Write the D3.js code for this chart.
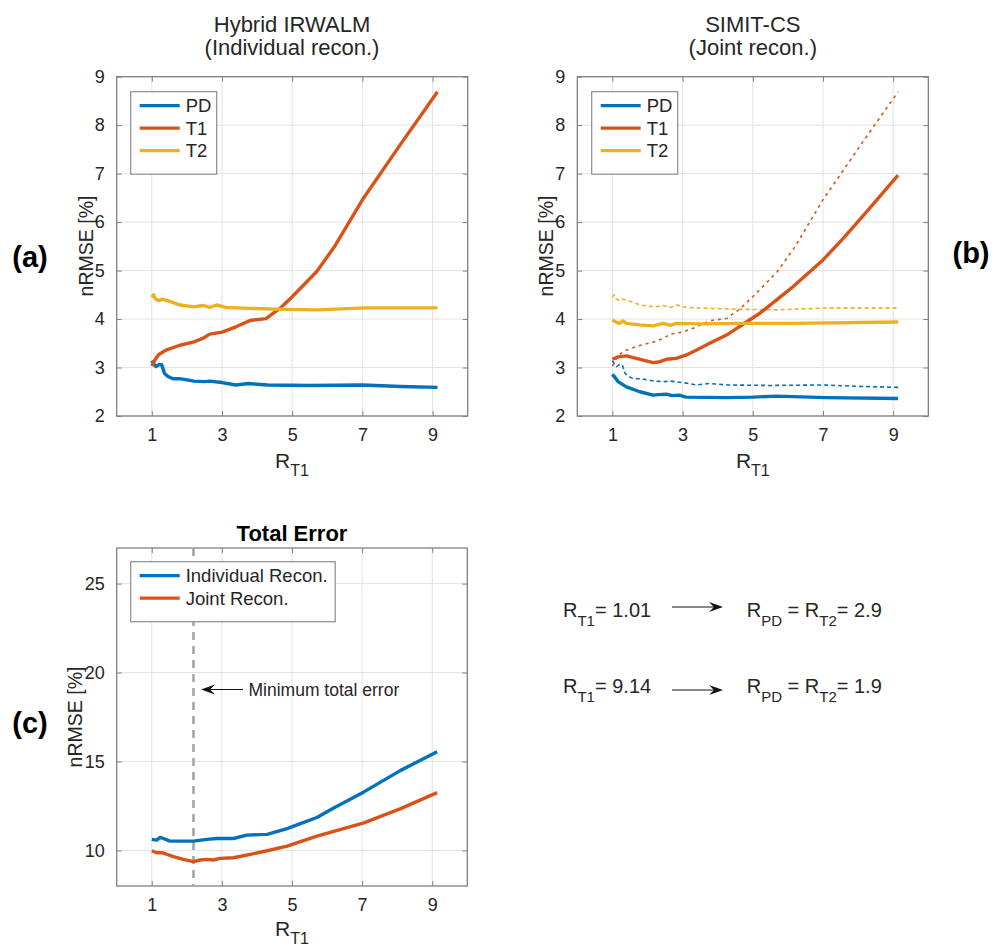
<!DOCTYPE html>
<html>
<head>
<meta charset="utf-8">
<script src="https://cdn.jsdelivr.net/npm/d3@7"></script>
<style>
  body { margin: 0; background: #fff; }
  svg text { font-family: "Liberation Sans", Arial, sans-serif; fill: #262626; }
</style>
</head>
<body>
<svg width="995" height="949"></svg>
<script>
// R_T1 vs nRMSE
var xTicks = [1, 3, 5, 7, 9];
var yTicksAB = [2, 3, 4, 5, 6, 7, 8, 9];
var yTicksC = [10, 15, 20, 25];

// (a) individual recon
var indivPD = [[1,3.14],[1.05,3.08],[1.12,3.02],[1.2,3.06],[1.28,3.06],[1.36,2.88],[1.45,2.82],[1.6,2.77],[1.8,2.77],[2.2,2.72],[2.5,2.71],[2.65,2.72],[3.0,2.69],[3.4,2.64],[3.75,2.67],[4.3,2.64],[5.5,2.63],[7.0,2.64],[8.1,2.61],[9.14,2.59]];
var indivT1 = [[1,3.03],[1.1,3.17],[1.2,3.27],[1.4,3.36],[1.8,3.46],[2.2,3.53],[2.45,3.6],[2.65,3.69],[3.0,3.73],[3.4,3.84],[3.8,3.97],[4.25,4.01],[4.65,4.22],[5.0,4.46],[5.7,4.98],[6.2,5.49],[7.0,6.46],[8.1,7.62],[9.14,8.69]];
var indivT2 = [[1,4.45],[1.05,4.5],[1.1,4.42],[1.2,4.38],[1.3,4.41],[1.45,4.38],[1.8,4.29],[2.2,4.25],[2.45,4.28],[2.65,4.24],[2.85,4.29],[3.1,4.24],[3.8,4.22],[4.8,4.2],[5.7,4.19],[7.1,4.23],[9.14,4.23]];

// (b) joint recon
var jointPD = [[1,2.86],[1.1,2.77],[1.16,2.71],[1.4,2.6],[1.78,2.5],[2.16,2.43],[2.3,2.44],[2.54,2.45],[2.7,2.42],[2.9,2.43],[3.1,2.39],[4.25,2.38],[5,2.39],[5.67,2.41],[7.1,2.38],[9.14,2.36]];
var jointT1 = [[1,3.17],[1.16,3.22],[1.4,3.24],[1.68,3.19],[2.16,3.1],[2.35,3.12],[2.54,3.17],[2.82,3.19],[3.11,3.26],[3.4,3.36],[3.77,3.5],[4.25,3.67],[4.82,3.94],[5.2,4.12],[5.67,4.39],[6.15,4.67],[7.0,5.22],[7.57,5.66],[8.24,6.21],[9.14,6.97]];
var jointT2 = [[1,3.98],[1.1,3.94],[1.2,3.91],[1.3,3.96],[1.4,3.91],[1.78,3.88],[2.16,3.86],[2.45,3.91],[2.65,3.87],[2.82,3.91],[3.5,3.9],[4.7,3.91],[6.15,3.91],[9.14,3.94]];

// (c) total error
var totalIndiv = [[1,10.62],[1.14,10.58],[1.24,10.73],[1.33,10.67],[1.52,10.52],[2.19,10.52],[2.57,10.62],[2.86,10.67],[3.33,10.67],[3.71,10.86],[4.29,10.9],[4.86,11.23],[5.24,11.51],[5.71,11.85],[6.19,12.39],[7.05,13.29],[8.1,14.5],[9.14,15.55]];
var totalJoint = [[1,9.98],[1.14,9.87],[1.29,9.87],[1.62,9.65],[1.9,9.5],[2.19,9.37],[2.38,9.46],[2.57,9.5],[2.76,9.46],[2.95,9.55],[3.33,9.59],[3.81,9.78],[4.29,9.98],[4.86,10.24],[5.71,10.8],[7.05,11.55],[8.1,12.35],[9.14,13.25]];
var minTotalR = 2.19;

var blue = "#0072BD", red = "#D95319", yellow = "#EDB120";

var svg = d3.select("svg");

function drawPanel(box, yDomain, yTicks)
{
  var x = d3.scaleLinear().domain([0, 10]).range([box.x0, box.x1]);
  var y = d3.scaleLinear().domain(yDomain).range([box.y1, box.y0]);
  var g = svg.append("g");

  // grid
  g.selectAll("line.gx").data(xTicks).enter().append("line")
   .attr("x1", d => x(d)).attr("x2", d => x(d))
   .attr("y1", box.y0).attr("y2", box.y1)
   .style("stroke", "#e3e3e3").style("stroke-width", 1);
  g.selectAll("line.gy").data(yTicks).enter().append("line")
   .attr("x1", box.x0).attr("x2", box.x1)
   .attr("y1", d => y(d)).attr("y2", d => y(d))
   .style("stroke", "#e3e3e3").style("stroke-width", 1);

  // axes (ticks inward, box all round)
  var fmt = d3.format("d");
  var ax = d3.axisBottom(x).tickValues(xTicks).tickFormat(fmt).tickSizeInner(-5).tickSizeOuter(0).tickPadding(12);
  var ay = d3.axisLeft(y).tickValues(yTicks).tickFormat(fmt).tickSizeInner(-5).tickSizeOuter(0).tickPadding(12);
  var ax2 = d3.axisTop(x).tickValues(xTicks).tickSizeInner(-5).tickSizeOuter(0).tickFormat("");
  var ay2 = d3.axisRight(y).tickValues(yTicks).tickSizeInner(-5).tickSizeOuter(0).tickFormat("");
  [[ax, "translate(0," + box.y1 + ")"], [ay, "translate(" + box.x0 + ",0)"],
   [ax2, "translate(0," + box.y0 + ")"], [ay2, "translate(" + box.x1 + ",0)"]].forEach(function(a) {
    var s = g.append("g").attr("transform", a[1]).call(a[0]);
    s.select(".domain").remove();
    s.selectAll("line").style("stroke", "#808080");
    s.selectAll("text").style("font-size", "18px").style("fill", "#262626")
     .style("font-family", "'Liberation Sans', Arial, sans-serif");
  });
  g.append("rect").attr("x", box.x0).attr("y", box.y0)
   .attr("width", box.x1 - box.x0).attr("height", box.y1 - box.y0)
   .style("fill", "none").style("stroke", "#808080").style("stroke-width", 1.3);

  return {x: x, y: y, g: g};
}

function drawLine(p, data, color, width, dash)
{
  var line = d3.line().x(d => p.x(d[0])).y(d => p.y(d[1]));
  p.g.append("path").datum(data).attr("d", line)
   .style("fill", "none").style("stroke", color).style("stroke-width", width)
   .style("stroke-linejoin", "round")
   .style("stroke-dasharray", dash || null);
}

function legend(x0, y0, w, names, colors)
{
  var h = 15 + names.length * 22.5;
  svg.append("rect").attr("x", x0).attr("y", y0).attr("width", w).attr("height", h)
   .style("fill", "#fff").style("stroke", "#8c8c8c").style("stroke-width", 1.2);
  names.forEach(function(n, i) {
    var cy = y0 + 14 + i * 22.5;
    svg.append("line").attr("x1", x0 + 9).attr("x2", x0 + 49).attr("y1", cy).attr("y2", cy)
     .style("stroke", colors[i]).style("stroke-width", 3.2);
    svg.append("text").attr("x", x0 + 55).attr("y", cy + 6.5).text(n).style("font-size", "18.5px");
  });
}

function xLabel(cx, yb)
{
  var t = svg.append("text").attr("x", cx).attr("y", yb).attr("text-anchor", "middle").style("font-size", "21px");
  t.append("tspan").text("R");
  t.append("tspan").attr("dy", 8).style("font-size", "16px").text("T1");
}

function yLabel(xb, cy)
{
  svg.append("text").attr("transform", "translate(" + xb + "," + cy + ") rotate(-90)")
   .attr("text-anchor", "middle").style("font-size", "19.5px").text("nRMSE [%]");
}

function arrow(x1, x2, yy)
{
  var dir = x2 > x1 ? 1 : -1;
  svg.append("line").attr("x1", x1).attr("x2", x2 - dir * 8).attr("y1", yy).attr("y2", yy)
   .style("stroke", "#111").style("stroke-width", 1);
  svg.append("path")
   .attr("d", "M" + x2 + "," + yy + " L" + (x2 - dir * 14) + "," + (yy - 5) +
              " L" + (x2 - dir * 9) + "," + yy + " L" + (x2 - dir * 14) + "," + (yy + 5) + "Z")
   .style("fill", "#111");
}

// ---- (a)
var boxA = {x0: 116.7, x1: 467.7, y0: 76.7, y1: 416};
var pa = drawPanel(boxA, [2, 9], yTicksAB);
drawLine(pa, indivPD, blue, 3.4);
drawLine(pa, indivT1, red, 3.4);
drawLine(pa, indivT2, yellow, 3.4);
legend(130.7, 91.7, 86, ["PD", "T1", "T2"], [blue, red, yellow]);
svg.append("text").attr("x", 292).attr("y", 32).attr("text-anchor", "middle").style("font-size", "22px").text("Hybrid IRWALM");
svg.append("text").attr("x", 292).attr("y", 55).attr("text-anchor", "middle").style("font-size", "22px").text("(Individual recon.)");
xLabel(292, 468);
yLabel(93, 246);
svg.append("text").attr("x", 30).attr("y", 267).attr("text-anchor", "middle")
 .style("font-size", "29px").style("font-weight", "bold").style("fill", "#000").text("(a)");

// ---- (b)
var boxB = {x0: 577.3, x1: 928.3, y0: 76.7, y1: 416};
var pb = drawPanel(boxB, [2, 9], yTicksAB);
drawLine(pb, indivPD, blue, 1.6, "4,3");
drawLine(pb, indivT1, red, 1.6, "3,4");
drawLine(pb, indivT2, yellow, 1.6, "4,3");
drawLine(pb, jointPD, blue, 3.4);
drawLine(pb, jointT1, red, 3.4);
drawLine(pb, jointT2, yellow, 3.4);
legend(591.7, 91.7, 86, ["PD", "T1", "T2"], [blue, red, yellow]);
svg.append("text").attr("x", 752.8).attr("y", 32).attr("text-anchor", "middle").style("font-size", "22px").text("SIMIT-CS");
svg.append("text").attr("x", 752.8).attr("y", 55).attr("text-anchor", "middle").style("font-size", "22px").text("(Joint recon.)");
xLabel(752.8, 468);
yLabel(553, 246);
svg.append("text").attr("x", 971).attr("y", 263).attr("text-anchor", "middle")
 .style("font-size", "29px").style("font-weight", "bold").style("fill", "#000").text("(b)");

// ---- (c)
var boxC = {x0: 116.7, x1: 467.3, y0: 548, y1: 886};
var pc = drawPanel(boxC, [8, 27], yTicksC);
pc.g.append("line").attr("x1", pc.x(minTotalR)).attr("x2", pc.x(minTotalR))
 .attr("y1", boxC.y0).attr("y2", boxC.y1)
 .style("stroke", "#a6a6a6").style("stroke-width", 2.6).style("stroke-dasharray", "8,6");
drawLine(pc, totalIndiv, blue, 3.4);
drawLine(pc, totalJoint, red, 3.4);
legend(130.7, 561.7, 204.5, ["Individual Recon.", "Joint Recon."], [blue, red]);
svg.append("text").attr("x", 292).attr("y", 541).attr("text-anchor", "middle")
 .style("font-size", "22px").style("font-weight", "bold").style("fill", "#000").text("Total Error");
arrow(243, 201, 689.5);
svg.append("text").attr("x", 248.5).attr("y", 695.5).style("font-size", "17.5px").text("Minimum total error");
xLabel(292, 936);
yLabel(82, 717);
svg.append("text").attr("x", 30).attr("y", 733).attr("text-anchor", "middle")
 .style("font-size", "29px").style("font-weight", "bold").style("fill", "#000").text("(c)");

// ---- right-hand notes
function ratioLine(yb, rT1, rOut, arrowY)
{
  var t = svg.append("text").attr("x", 563).attr("y", yb).style("font-size", "20px");
  t.append("tspan").text("R");
  t.append("tspan").attr("dy", 9).style("font-size", "15px").text("T1");
  t.append("tspan").attr("dy", -9).text("= " + rT1);
  arrow(672, 723, arrowY);
  var u = svg.append("text").attr("x", 746.7).attr("y", yb).style("font-size", "20px");
  u.append("tspan").text("R");
  u.append("tspan").attr("dy", 9).style("font-size", "15px").text("PD");
  u.append("tspan").attr("dy", -9).text(" = R");
  u.append("tspan").attr("dy", 9).style("font-size", "15px").text("T2");
  u.append("tspan").attr("dy", -9).text("= " + rOut);
}
ratioLine(617, "1.01", "2.9", 607);
ratioLine(693, "9.14", "1.9", 690);
</script>
</body>
</html>
